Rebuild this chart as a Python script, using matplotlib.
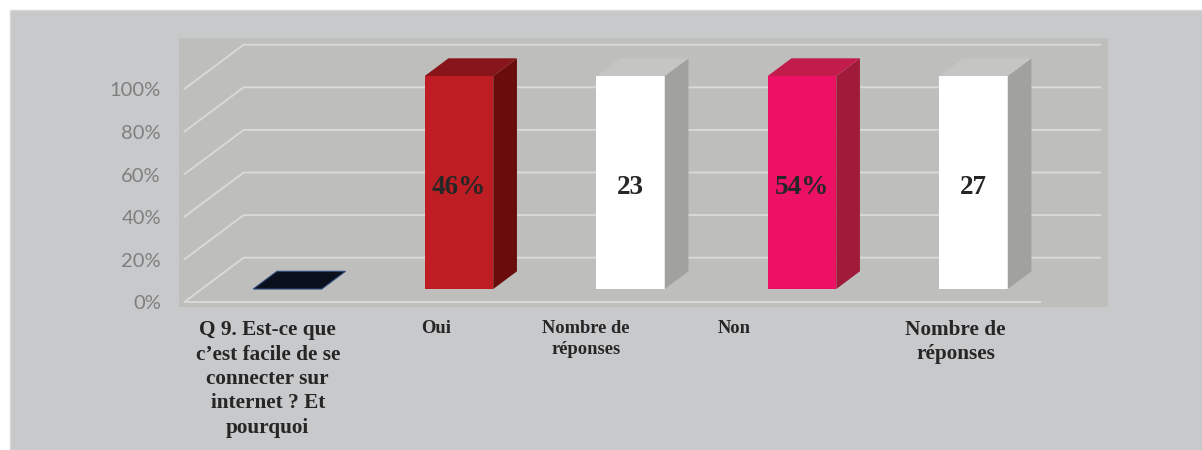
import matplotlib
matplotlib.use("Agg")
import matplotlib.pyplot as plt
from matplotlib.patches import Polygon, Rectangle

# ---------------- data ----------------
categories = [
    "Q 9. Est-ce que\nc’est facile de se\nconnecter sur\ninternet ? Et\npourquoi",
    "Oui",
    "Nombre de\nréponses",
    "Non",
    "Nombre de\nréponses",
]
bar_share = [0, 100, 100, 100, 100]          # 100 % stacked columns
bar_labels = ["", "46%", "23", "54%", "27"]
y_ticks = [0, 20, 40, 60, 80, 100]
y_tick_labels = ["0%", "20%", "40%", "60%", "80%", "100%"]

# ---------------- style ----------------
front_colors = ["#0B111C", "#BE1E23", "#FFFFFF", "#ED1165", "#FFFFFF"]
top_colors = ["#0B111C", "#87151A", "#C5C5C3", "#C11C4C", "#C5C5C3"]
side_colors = ["#0B111C", "#690C0B", "#A1A19F", "#A01B3A", "#A1A19F"]
label_sizes = [15.3, 13.3, 13.3, 13.3, 15.3]
label_dx_px = [-2, -5, -27, -50, 0]

W, H = 1202, 450
fig = plt.figure(figsize=(W / 100, H / 100), dpi=100)
fig.patch.set_facecolor("white")
panel = Rectangle((9.5 / W, -0.01), 1.0, (H - 9.5) / H + 0.01,
                  transform=fig.transFigure, facecolor="#C8C9CB",
                  edgecolor="#D8D8D8", lw=1.0, zorder=-5)
fig.patches.append(panel)

ax = fig.add_axes([179 / W, (H - 306.7) / H, (1108 - 179) / W, (306.7 - 37.7) / H])
ax.set_zorder(2)
ax.set_facecolor("#BEBEBC")
for s in ax.spines.values():
    s.set_visible(False)

x0_px, unit_px, px_per_pct, y0_px = 269.7, 171.5, 2.13, 302.3
ax.set_xlim((179 - x0_px) / unit_px, (1108 - x0_px) / unit_px)
ax.set_ylim((y0_px - 306.7) / px_per_pct, (y0_px - 37.7) / px_per_pct)

DX = 59.7 / unit_px
DY = 44.6 / px_per_pct
f0, fd = 0.298, 0.397
bw = 68.5 / unit_px
n = len(categories)

grid_c = "#D9D9D7"
for v in y_ticks:
    ax.plot([-0.5, -0.5 + DX, n - 0.5 + DX], [v, v + DY, v + DY],
            color=grid_c, lw=1.4, solid_capstyle="butt", zorder=1)
ax.plot([-0.5, n - 0.5], [0, 0], color=grid_c, lw=1.4, solid_capstyle="butt", zorder=1)

bdx, bdy = fd * DX, fd * DY
for i, s in enumerate(bar_share):
    xc = i + f0 * DX
    yb = f0 * DY
    xl, xr = xc - bw / 2, xc + bw / 2
    if s > 0:
        ax.bar(xc, s, width=bw, bottom=yb, color=front_colors[i], zorder=3,
               edgecolor="none")
        side = Polygon([(xr, yb), (xr + bdx, yb + bdy), (xr + bdx, yb + s + bdy), (xr, yb + s)],
                       closed=True, facecolor=side_colors[i], edgecolor="none", zorder=3)
        ax.add_patch(side)
        top = Polygon([(xl, yb + s), (xr, yb + s), (xr + bdx, yb + s + bdy), (xl + bdx, yb + s + bdy)],
                      closed=True, facecolor=top_colors[i], edgecolor="none", zorder=3)
        ax.add_patch(top)
    else:
        top = Polygon([(xl, yb + s), (xr, yb + s), (xr + bdx, yb + s + bdy), (xl + bdx, yb + s + bdy)],
                      closed=True, facecolor=top_colors[i], edgecolor="#2E4A7A", lw=0.8, zorder=3)
        ax.add_patch(top)
    if bar_labels[i]:
        ax.annotate(bar_labels[i], xy=(xc, yb + s / 2), xytext=(0, -11.5 * 0.72),
                    textcoords="offset points", ha="center", va="baseline",
                    fontsize=19.5, fontweight="bold", family="Liberation Serif",
                    color="#262626", zorder=5)

# category labels
for i, lab in enumerate(categories):
    ax.annotate(lab, xy=(i, 0), xycoords=("data", "axes fraction"),
                xytext=(label_dx_px[i] * 0.72, -13.3 * 0.72), textcoords="offset points",
                ha="center", va="top", multialignment="center",
                fontsize=label_sizes[i], fontweight="bold", family="Liberation Serif",
                color="#262626", linespacing=1.3, annotation_clip=False)

ax.set_xticks([])
ax.set_yticks(y_ticks)
ax.set_yticklabels(y_tick_labels)
ax.tick_params(axis="y", length=0, pad=13, labelsize=14.5, labelcolor="#7F7F7F")
for lbl in ax.get_yticklabels():
    lbl.set_family("Lato")

fig.savefig("out.png", dpi=100, facecolor=fig.get_facecolor())
